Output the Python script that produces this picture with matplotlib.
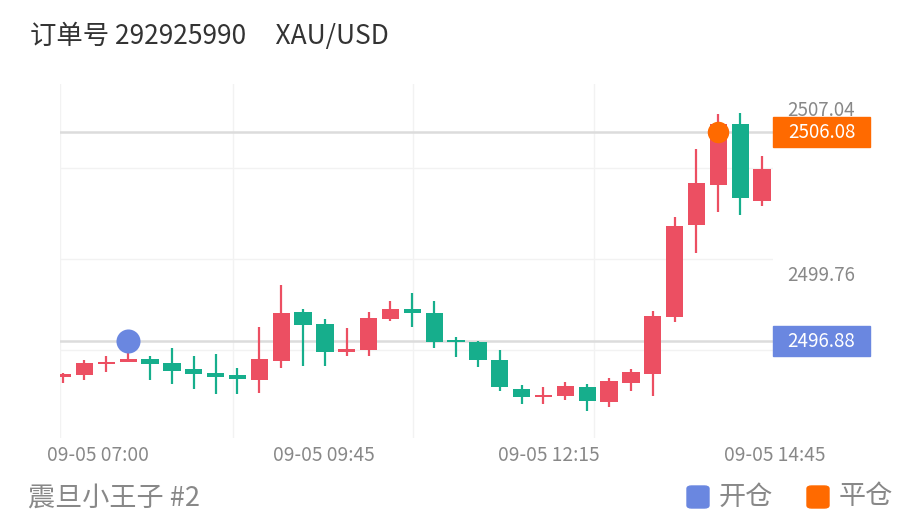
import matplotlib
matplotlib.use("Agg")
import matplotlib.pyplot as plt
import matplotlib.transforms as mtransforms
from matplotlib.patches import Rectangle, FancyBboxPatch

plt.rcParams['font.family'] = ['Noto Sans CJK SC', 'DejaVu Sans']

# 15-min candles, 09-05 07:00 onwards
opens  = [2495.31, 2495.38, 2495.87, 2495.94, 2496.07, 2495.92, 2495.63, 2495.48, 2495.37, 2495.16,
          2496.01, 2498.16, 2497.64, 2496.40, 2496.48, 2497.85, 2498.30, 2498.13, 2496.89, 2496.84,
          2496.06, 2494.77, 2494.41, 2494.44, 2494.87, 2494.19, 2495.04, 2495.45, 2497.92, 2501.99,
          2503.75, 2506.44, 2503.05]
closes = [2495.43, 2495.92, 2495.95, 2496.07, 2495.88, 2495.56, 2495.41, 2495.31, 2495.19, 2496.07,
          2498.10, 2497.60, 2496.41, 2496.54, 2497.91, 2498.29, 2498.11, 2496.84, 2496.82, 2496.03,
          2494.85, 2494.41, 2494.51, 2494.91, 2494.24, 2495.13, 2495.50, 2497.98, 2501.96, 2503.84,
          2506.43, 2503.17, 2504.44]
highs  = [2495.46, 2496.04, 2496.22, 2496.51, 2496.22, 2496.57, 2496.21, 2496.29, 2495.68, 2497.51,
          2499.35, 2498.28, 2497.84, 2497.47, 2498.16, 2498.66, 2499.01, 2498.66, 2497.04, 2496.89,
          2496.48, 2494.94, 2494.84, 2495.07, 2494.99, 2495.26, 2495.65, 2498.19, 2502.36, 2505.33,
          2506.88, 2506.91, 2505.03]
lows   = [2495.02, 2495.16, 2495.50, 2495.94, 2495.16, 2494.99, 2494.75, 2494.55, 2494.55, 2494.58,
          2495.70, 2495.79, 2495.79, 2496.22, 2496.22, 2497.75, 2497.48, 2496.56, 2496.16, 2495.75,
          2494.68, 2494.10, 2494.10, 2494.28, 2493.81, 2493.96, 2494.66, 2494.48, 2497.73, 2500.77,
          2502.58, 2502.42, 2502.83]

open_price, open_idx = 2496.88, 3
close_price, close_idx = 2506.08, 30
axis_prices = [2507.04, 2499.76]
grid_prices = [2504.5, 2500.5, 2496.5, 2492.5]
grid_x = [7.79, 16.03, 24.3]
time_labels = ["09-05 07:00", "09-05 09:45", "09-05 12:15", "09-05 14:45"]
time_pos = [1.62, 11.96, 22.26, 32.6]

UP, DOWN = '#ec4f62', '#16ae8c'
BLUE, ORANGE = '#6a87e0', '#ff6a00'
GRAY = '#888888'

fig = plt.figure(figsize=(9.24, 5.28), dpi=100)
ax = fig.add_axes([60/924, 90/528, 713/924, 354/528])
ax.set_xlim(-0.12, 32.5)
ax.set_ylim(2492.61, 2508.20)
for s in ax.spines.values():
    s.set_visible(False)
ax.set_xticks([]); ax.set_yticks([])

# faint grid
for g in grid_prices:
    ax.axhline(g, color='#f2f2f2', lw=1, zorder=0)
for g in grid_x + [-0.12]:
    ax.axvline(g, color='#f2f2f2', lw=1, zorder=0)

# price lines
ax.axhline(open_price, color='#dcdcdc', lw=1.8, zorder=1)
ax.axhline(close_price, color='#dcdcdc', lw=1.8, zorder=1)

xs = list(range(len(opens)))
cols = [UP if c >= o else DOWN for o, c in zip(opens, closes)]
ax.vlines(xs, lows, highs, colors=cols, lw=1.6, zorder=2)
bottoms = [min(o, c) for o, c in zip(opens, closes)]
heights = [max(abs(c - o), 0.1) for o, c in zip(opens, closes)]
ax.bar(xs, heights, bottom=bottoms, width=0.79, color=cols, zorder=3)

ax.scatter([open_idx], [open_price], s=300, color=BLUE, zorder=4, linewidths=0)
ax.scatter([close_idx], [close_price], s=240, color=ORANGE, zorder=4, linewidths=0)

# right price axis
tr = mtransforms.blended_transform_factory(ax.transAxes, ax.transData)
for p in axis_prices:
    ax.text(1.068, p, f"{p:.2f}", transform=tr, ha='center', va='center',
            fontsize=13.5, color=GRAY, clip_on=False)
for p, c in [(close_price, ORANGE), (open_price, BLUE)]:
    ax.add_patch(Rectangle((1.0, p - 0.66), 0.136, 1.32, transform=tr,
                           color=c, clip_on=False, zorder=5))
    ax.text(1.068, p, f"{p:.2f}", transform=tr, ha='center', va='center',
            fontsize=13.5, color='white', clip_on=False, zorder=6)

# time axis
trx = ax.get_xaxis_transform()
for pos, lab in zip(time_pos, time_labels):
    ax.text(pos, -0.05, lab, transform=trx, ha='center', va='center',
            fontsize=13.8, color=GRAY, clip_on=False)

fig.text(30/924, 1 - 36/528, "订单号 292925990     XAU/USD", fontsize=19,
         color='#333333', va='center', ha='left')
fig.text(28/924, 1 - 498/528, "震旦小王子 #2", fontsize=19.5, color=GRAY,
         va='center', ha='left')

# legend
for x0, c, lab in [(687, BLUE, "开仓"), (807, ORANGE, "平仓")]:
    fig.patches.append(FancyBboxPatch((x0/924, 1 - 508/528), 22/924, 22/528,
                                      boxstyle="round,pad=0,rounding_size=0.005",
                                      transform=fig.transFigure, color=c))
    fig.text((x0 + 32)/924, 1 - 497/528, lab, fontsize=19.5, color=GRAY,
             va='center', ha='left')

fig.savefig("out.png", dpi=100, facecolor='white')
